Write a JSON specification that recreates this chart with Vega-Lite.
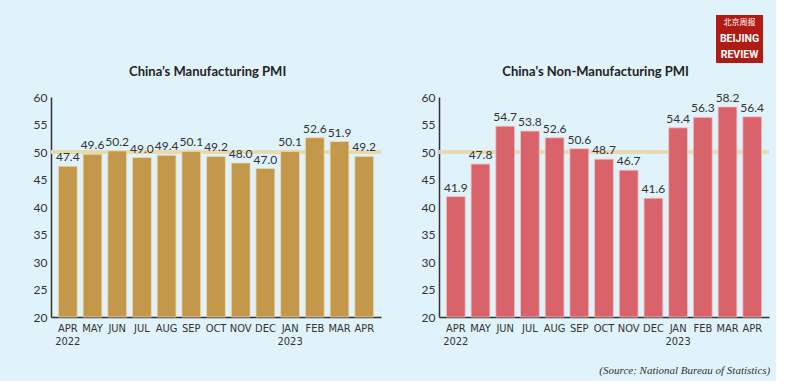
{
  "$schema": "https://vega.github.io/schema/vega-lite/v6.json",
  "background": "#e0f2fa",
  "padding": {"left": 33, "top": 15, "right": 5, "bottom": 5},
  "datasets": {
    "pmi": [
      {"month": "APR 2022", "mfg": 47.4, "nonmfg": 41.9},
      {"month": "MAY", "mfg": 49.6, "nonmfg": 47.8},
      {"month": "JUN", "mfg": 50.2, "nonmfg": 54.7},
      {"month": "JUL", "mfg": 49.0, "nonmfg": 53.8},
      {"month": "AUG", "mfg": 49.4, "nonmfg": 52.6},
      {"month": "SEP", "mfg": 50.1, "nonmfg": 50.6},
      {"month": "OCT", "mfg": 49.2, "nonmfg": 48.7},
      {"month": "NOV", "mfg": 48.0, "nonmfg": 46.7},
      {"month": "DEC", "mfg": 47.0, "nonmfg": 41.6},
      {"month": "JAN 2023", "mfg": 50.1, "nonmfg": 54.4},
      {"month": "FEB", "mfg": 52.6, "nonmfg": 56.3},
      {"month": "MAR", "mfg": 51.9, "nonmfg": 58.2},
      {"month": "APR", "mfg": 49.2, "nonmfg": 56.4}
    ],
    "logo": [
      {"t": "北京周报", "kind": "cn"},
      {"t": "BEIJING", "kind": "en"},
      {"t": "REVIEW", "kind": "en"}
    ]
  },
  "title": {
    "text": "(Source: National Bureau of Statistics)",
    "orient": "bottom",
    "anchor": "end",
    "font": "Liberation Serif",
    "fontSize": 11,
    "fontStyle": "italic",
    "fontWeight": "normal",
    "color": "#333",
    "offset": 19
  },
  "config": {
    "view": {"stroke": null},
    "axis": {
      "ticks": false,
      "grid": false,
      "domainColor": "#333333",
      "domainWidth": 1.5,
      "labelColor": "#333333",
      "labelFont": "Liberation Sans Narrow, DejaVu Sans Condensed, Roboto",
      "title": null
    },
    "title": {"font": "Lato", "fontSize": 13, "fontWeight": "bold", "color": "#222222"}
  },
  "vconcat": [
    {
      "hconcat": [
        {
          "width": 665,
          "height": 48,
          "data": {"values": [{}]},
          "mark": {"type": "text", "text": ""},
          "encoding": {}
        },
        {
          "width": 47,
          "height": 48,
          "data": {"name": "logo"},
          "layer": [
            {"mark": {"type": "rect", "color": "#b01c14"}, "encoding": {}},
            {
              "transform": [{"filter": "datum.kind == 'cn'"}],
              "mark": {"type": "text", "color": "white", "fontSize": 8, "font": "Noto Sans CJK SC"},
              "encoding": {
                "text": {"field": "t"},
                "y": {"field": "t", "type": "nominal", "sort": null, "axis": null, "scale": {"domain": ["北京周报", "BEIJING", "REVIEW"], "paddingOuter": 0.1}}
              }
            },
            {
              "transform": [{"filter": "datum.kind == 'en'"}],
              "mark": {"type": "text", "color": "white", "fontSize": 10.5, "fontWeight": "bold", "font": "Roboto"},
              "encoding": {
                "text": {"field": "t"},
                "y": {"field": "t", "type": "nominal", "sort": null, "axis": null, "scale": {"domain": ["北京周报", "BEIJING", "REVIEW"], "paddingOuter": 0.1}}
              }
            }
          ]
        }
      ],
      "spacing": 0
    },
    {
      "hconcat": [
        {
          "title": {"text": "China’s Manufacturing PMI", "frame": "bounds", "anchor": "middle", "offset": 12},
          "width": 330,
          "height": 220,
          "data": {"name": "pmi"},
          "encoding": {
            "y": {"type": "quantitative", "scale": {"domain": [20, 60], "nice": false},
              "axis": {"values": [20, 25, 30, 35, 40, 45, 50, 55, 60], "labelFontSize": 12, "labelPadding": 4, "labelFont": "Lato", "labelOverlap": false}}
          },
          "layer": [
            {
              "mark": {"type": "rule", "color": "#e6d9b3", "strokeWidth": 2.5},
              "encoding": {"y": {"datum": 50, "type": "quantitative"}}
            },
            {
              "mark": {"type": "bar", "color": "#c4984b", "stroke": "#ecd9b0", "strokeWidth": 0.8},
              "encoding": {
                "x": {"field": "month", "type": "nominal", "sort": null, "scale": {"paddingInner": 0.24, "paddingOuter": 0.3},
                  "axis": {"labelAngle": 0, "labelExpr": "split(datum.value, ' ')", "labelFontSize": 11, "labelPadding": 5, "labelLineHeight": 13}},
                "y": {"field": "mfg", "type": "quantitative"},
                "y2": {"datum": 20}
              }
            },
            {
              "mark": {"type": "text", "baseline": "bottom", "dy": -2, "fontSize": 12, "font": "Lato", "color": "#333333"},
              "encoding": {
                "x": {"field": "month", "type": "nominal", "sort": null},
                "y": {"field": "mfg", "type": "quantitative"},
                "text": {"field": "mfg", "type": "quantitative", "format": ".1f"}
              }
            }
          ]
        },
        {
          "title": {"text": "China’s Non-Manufacturing PMI", "frame": "bounds", "anchor": "middle", "offset": 12},
          "width": 330,
          "height": 220,
          "data": {"name": "pmi"},
          "encoding": {
            "y": {"type": "quantitative", "scale": {"domain": [20, 60], "nice": false},
              "axis": {"values": [20, 25, 30, 35, 40, 45, 50, 55, 60], "labelFontSize": 12, "labelPadding": 4, "labelFont": "Lato", "labelOverlap": false}}
          },
          "layer": [
            {
              "mark": {"type": "rule", "color": "#e6d9b3", "strokeWidth": 2.5},
              "encoding": {"y": {"datum": 50, "type": "quantitative"}}
            },
            {
              "mark": {"type": "bar", "color": "#d9636b", "stroke": "#f2c4c4", "strokeWidth": 0.8},
              "encoding": {
                "x": {"field": "month", "type": "nominal", "sort": null, "scale": {"paddingInner": 0.24, "paddingOuter": 0.3},
                  "axis": {"labelAngle": 0, "labelExpr": "split(datum.value, ' ')", "labelFontSize": 11, "labelPadding": 5, "labelLineHeight": 13}},
                "y": {"field": "nonmfg", "type": "quantitative"},
                "y2": {"datum": 20}
              }
            },
            {
              "mark": {"type": "text", "baseline": "bottom", "dy": -2, "fontSize": 12, "font": "Lato", "color": "#333333"},
              "encoding": {
                "x": {"field": "month", "type": "nominal", "sort": null},
                "y": {"field": "nonmfg", "type": "quantitative"},
                "text": {"field": "nonmfg", "type": "quantitative", "format": ".1f"}
              }
            }
          ]
        }
      ],
      "spacing": 38
    }
  ],
  "spacing": 3
}
